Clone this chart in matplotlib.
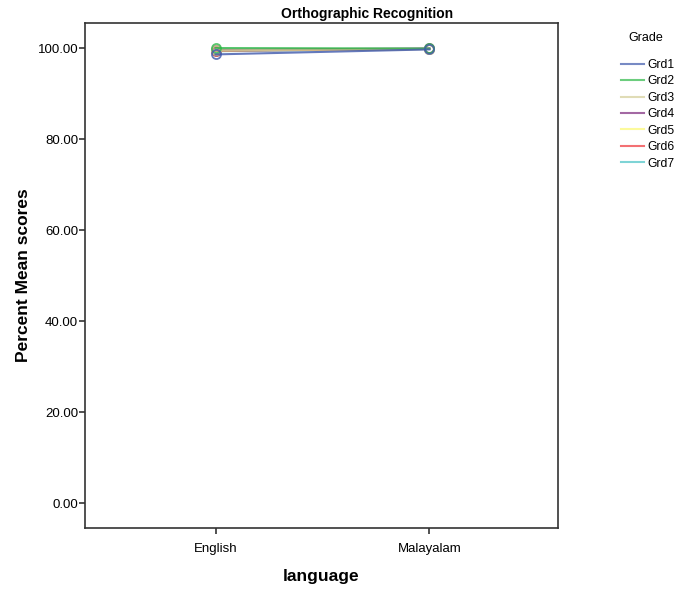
import matplotlib.pyplot as plt
from matplotlib.lines import Line2D

plt.rcParams['font.family'] = ['Liberation Sans', 'DejaVu Sans']

languages = ['English', 'Malayalam']
grades = ['Grd1', 'Grd2', 'Grd3', 'Grd4', 'Grd5', 'Grd6', 'Grd7']
scores = {
    'Grd1': [98.6, 99.7],
    'Grd2': [100.0, 99.9],
    'Grd3': [99.5, 99.8],
    'Grd4': [99.6, 99.9],
    'Grd5': [99.5, 99.8],
    'Grd6': [99.4, 99.8],
    'Grd7': [99.3, 99.8],
}
colors = ['#3E58AC', '#2EB848', '#D3CE97', '#7C287D', '#FBF873', '#EF3338', '#48C2C5']

fig = plt.figure(figsize=(6.76, 5.9), dpi=100)
ax = fig.add_axes([0.126, 0.105, 0.699, 0.856])

x = range(len(languages))
# draw in reverse so Grd1/Grd2 sit on top like the original
for g, c in reversed(list(zip(grades, colors))):
    ax.plot(x, scores[g], color=c, lw=1.5, marker='o', ms=6.5, mfc='none', mew=1.3, alpha=0.8)

ax.set_xlim(-0.61, 1.6)
ax.set_ylim(-5.5, 105.5)
ax.set_xticks(list(x))
ax.set_xticklabels(languages, fontsize=9.5)
ax.set_yticks([0, 20, 40, 60, 80, 100])
ax.set_yticklabels(['%.2f' % v for v in [0, 20, 40, 60, 80, 100]], fontsize=9.5)
ax.tick_params(length=4, width=1.2, color='#333333', pad=1)
ax.tick_params(axis='x', pad=7)
for s in ax.spines.values():
    s.set_color('#333333')
    s.set_linewidth(1.2)

fig.text(367 / 676, 1 - 14 / 590, 'Orthographic Recognition', fontsize=10,
         fontweight='bold', ha='center', va='center')
ax.set_xlabel('language', fontsize=12.5, fontweight='bold', labelpad=10)
ax.set_ylabel('Percent Mean scores', fontsize=12.5, fontweight='bold', labelpad=5)

fig.text(646 / 676, 1 - 38 / 590, 'Grade', fontsize=9, ha='center', va='center')
handles = [Line2D([], [], color=c, lw=1.5, alpha=0.7) for c in colors]
leg = fig.legend(handles, grades, loc='upper left',
                 bbox_to_anchor=(0.911, 1 - 54 / 590), frameon=False, fontsize=8.7,
                 handlelength=1.9, handletextpad=0.3, borderaxespad=0,
                 labelspacing=0.37)

fig.savefig('out.png', dpi=100)
